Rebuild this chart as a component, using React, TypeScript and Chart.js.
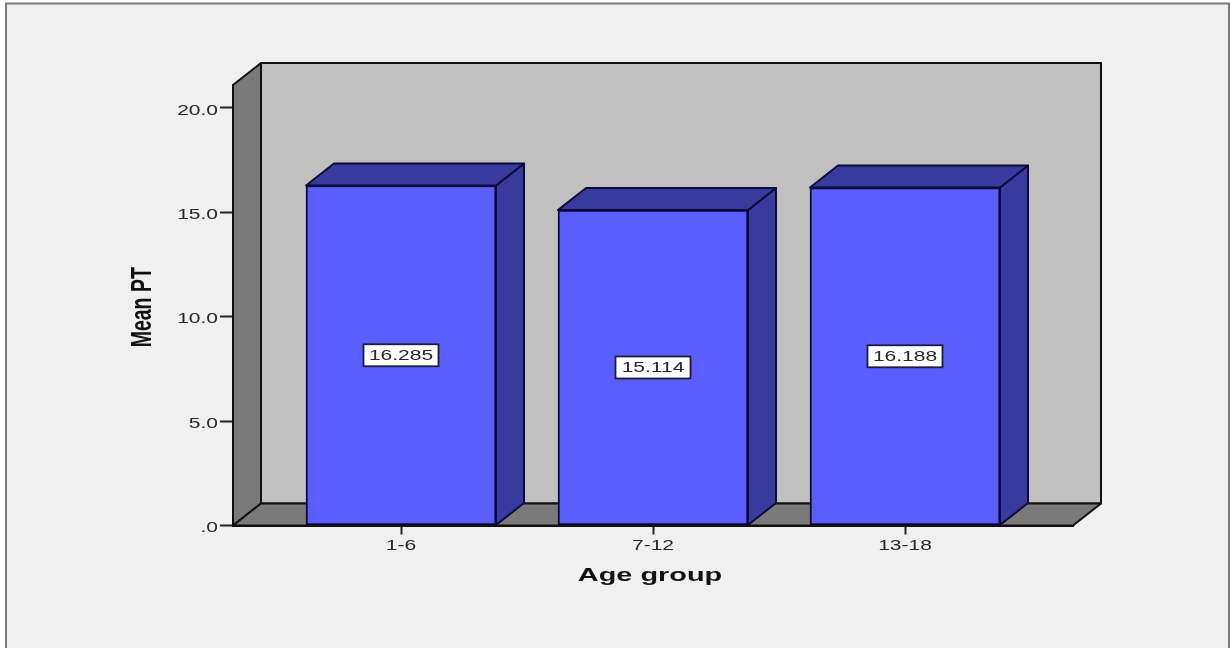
import React, { useEffect, useRef } from "react";
import { Chart, registerables } from "chart.js";

Chart.register(...registerables);

const categories = ["1-6", "7-12", "13-18"];
const meanPT = [16.285, 15.114, 16.188];
const valueTicks = [0, 5, 10, 15, 20];

const xAxisTitle = "Age group";
const yAxisTitle = "Mean PT";

const FONT = '"Liberation Sans", Arial, sans-serif';
const DEPTH_X = 28;
const DEPTH_Y = 22;

const COLORS = {
  page: "#ffffff",
  panel: "#f0f0f0",
  frame: "#7c7c7c",
  wall: "#c0c0c0",
  side: "#7a7a7a",
  barFront: "#5a5eff",
  barSide: "#393a9e",
  edge: "#111111",
  barEdge: "#0b0b3a",
  text: "#262626",
};

function polygon(ctx: CanvasRenderingContext2D, pts: number[][], fill: string, stroke: string, lw = 2) {
  ctx.beginPath();
  pts.forEach(([x, y], i) => (i ? ctx.lineTo(x, y) : ctx.moveTo(x, y)));
  ctx.closePath();
  ctx.fillStyle = fill;
  ctx.fill();
  ctx.lineWidth = lw;
  ctx.strokeStyle = stroke;
  ctx.lineJoin = "round";
  ctx.stroke();
}

// Horizontally widened text, centred on the anchor unless an alignment is given.
function wideText(
  ctx: CanvasRenderingContext2D,
  text: string,
  x: number,
  y: number,
  font: string,
  color: string,
  widen: number,
  align: CanvasTextAlign = "center",
  rotated = false,
) {
  ctx.save();
  ctx.translate(x, y);
  ctx.scale(widen, 1);
  if (rotated) ctx.rotate(-Math.PI / 2);
  ctx.font = font;
  ctx.fillStyle = color;
  ctx.textAlign = align;
  ctx.textBaseline = "middle";
  ctx.fillText(text, 0, 0);
  ctx.restore();
}

const box3d = {
  id: "box3d",
  beforeDraw(chart: Chart) {
    const { ctx, chartArea: a, width, height } = chart;
    ctx.save();
    ctx.fillStyle = COLORS.page;
    ctx.fillRect(0, 0, width, height);
    ctx.fillStyle = COLORS.panel;
    ctx.strokeStyle = COLORS.frame;
    ctx.lineWidth = 2;
    ctx.fillRect(6, 3.5, 1223, height);
    ctx.strokeRect(6, 3.5, 1223, height + 10);

    const backL = a.left + DEPTH_X;
    const backR = a.right + DEPTH_X;
    const backT = a.top - DEPTH_Y;
    const backB = a.bottom - DEPTH_Y;
    polygon(ctx, [[backL, backT], [backR, backT], [backR, backB], [backL, backB]], COLORS.wall, COLORS.edge);
    polygon(ctx, [[a.left, a.top], [backL, backT], [backL, backB], [a.left, a.bottom]], COLORS.side, COLORS.edge);
    polygon(ctx, [[a.left, a.bottom], [a.right, a.bottom], [backR, backB], [backL, backB]], COLORS.side, COLORS.edge);
    ctx.restore();
  },
  beforeDatasetsDraw(chart: Chart) {
    const { ctx } = chart;
    ctx.save();
    chart.getDatasetMeta(0).data.forEach((bar: any) => {
      const { x, y, base, width } = bar.getProps(["x", "y", "base", "width"], true);
      const l = x - width / 2;
      const r = x + width / 2;
      polygon(ctx, [[r, y], [r + DEPTH_X, y - DEPTH_Y], [r + DEPTH_X, base - DEPTH_Y], [r, base]], COLORS.barSide, COLORS.barEdge);
      polygon(ctx, [[l, y], [l + DEPTH_X, y - DEPTH_Y], [r + DEPTH_X, y - DEPTH_Y], [r, y]], COLORS.barSide, COLORS.barEdge);
    });
    ctx.restore();
  },
  afterDatasetsDraw(chart: Chart) {
    const { ctx, scales } = chart;
    const xs: any = scales.x;
    const ys: any = scales.y;
    const tickFont = `15px ${FONT}`;
    const tickWiden = 1.4;

    // Value boxes sit at the middle of each bar's front face.
    chart.getDatasetMeta(0).data.forEach((bar: any, i: number) => {
      const { x, y, base } = bar.getProps(["x", "y", "base"], true);
      const cy = (y + base) / 2;
      ctx.save();
      ctx.fillStyle = "#ffffff";
      ctx.strokeStyle = "#1c1c3c";
      ctx.lineWidth = 1.8;
      ctx.fillRect(x - 37.5, cy - 11, 75, 22);
      ctx.strokeRect(x - 37.5, cy - 11, 75, 22);
      ctx.restore();
      wideText(ctx, meanPT[i].toFixed(3), x, cy + 0.5, tickFont, COLORS.text, tickWiden);
    });

    ys.ticks.forEach((t: any, i: number) => {
      wideText(ctx, t.label, xs.left - 15, ys.getPixelForTick(i) + 2.5, tickFont, COLORS.text, tickWiden, "right");
    });
    xs.ticks.forEach((t: any, i: number) => {
      wideText(ctx, t.label, xs.getPixelForTick(i), xs.top + 20, tickFont, COLORS.text, tickWiden);
    });

    wideText(ctx, xs.options.title.text, (xs.left + xs.right) / 2 - 3, xs.top + 50.5, `bold 19px ${FONT}`, "#111111", 1.52);
    wideText(ctx, ys.options.title.text, 143, (ys.top + ys.bottom) / 2 + 2, `bold 19.5px ${FONT}`, "#111111", 1.5, "center", true);
  },
};

export default function App() {
  const ref = useRef<HTMLCanvasElement>(null);

  useEffect(() => {
    if (!ref.current) return;
    const chart = new Chart(ref.current, {
      type: "bar",
      plugins: [box3d],
      data: {
        labels: categories,
        datasets: [
          {
            label: yAxisTitle,
            data: meanPT.map((y, x) => ({ x, y })),
            backgroundColor: COLORS.barFront,
            borderColor: COLORS.barEdge,
            borderWidth: 2,
            borderSkipped: false,
            barThickness: 190,
          },
        ],
      },
      options: {
        responsive: false,
        animation: false,
        layout: { padding: { left: 0, right: 158, top: 85, bottom: 0 } },
        plugins: { legend: { display: false }, tooltip: { enabled: false } },
        scales: {
          x: {
            type: "linear",
            offset: false,
            min: -2 / 3,
            max: 8 / 3,
            afterBuildTicks(scale: any) {
              scale.ticks = categories.map((_, value) => ({ value }));
            },
            afterFit(scale: any) {
              scale.height = 122.5;
            },
            title: { display: false, text: xAxisTitle },
            ticks: {
              display: false,
              callback: (v: any) => categories[v as number],
            },
            grid: { offset: false, drawOnChartArea: false, drawTicks: true, tickLength: 9, tickColor: "#222222", tickWidth: 2 },
            border: { display: true, color: COLORS.edge, width: 2 },
          },
          y: {
            min: 0,
            max: 21.1,
            afterBuildTicks(scale: any) {
              scale.ticks = valueTicks.map((value) => ({ value }));
            },
            afterFit(scale: any) {
              scale.width = 233;
            },
            title: { display: false, text: yAxisTitle },
            ticks: {
              display: false,
              callback: (v: any) => (v === 0 ? ".0" : Number(v).toFixed(1)),
            },
            grid: { drawOnChartArea: false, drawTicks: true, tickLength: 13, tickColor: "#222222", tickWidth: 2 },
            border: { display: true, color: COLORS.edge, width: 2 },
          },
        },
      },
    } as any);
    return () => chart.destroy();
  }, []);

  return (
    <div style={{ position: "fixed", left: 0, top: 0, width: 1231, height: 648, overflow: "hidden" }}>
      <canvas ref={ref} width={1231} height={648} style={{ display: "block" }} />
    </div>
  );
}
